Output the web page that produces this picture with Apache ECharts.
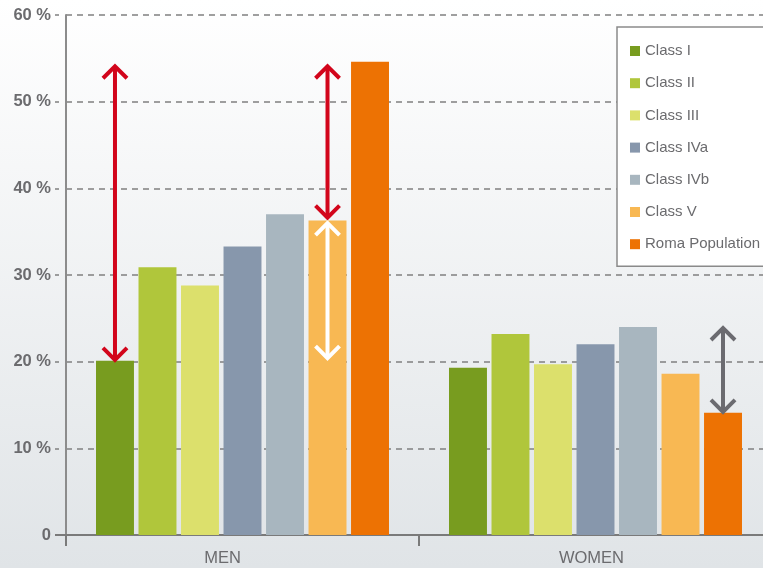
<!DOCTYPE html>
<html>
<head>
<meta charset="utf-8">
<script src="https://cdn.jsdelivr.net/npm/echarts@6/dist/echarts.min.js"></script>
<style>html,body{margin:0;padding:0;}#c{width:763px;height:568px;}</style>
</head>
<body>
<div id="c"></div>
<script>
// ---- data ----
const categories = ['MEN', 'WOMEN'];
const seriesNames = ['Class I', 'Class II', 'Class III', 'Class IVa', 'Class IVb', 'Class V', 'Roma Population'];
const classI = [20.1, 19.3];
const classII = [30.9, 23.2];
const classIII = [28.8, 19.7];
const classIVa = [33.3, 22.0];
const classIVb = [37.0, 24.0];
const classV = [36.3, 18.6];
const romaPopulation = [54.6, 14.1];
const yTicks = [0, 10, 20, 30, 40, 50, 60];
// annotation arrows: category index, bar (series) index, from value, to value
const arrowCategory = [0, 0, 0, 1];
const arrowBar = [5, 0, 5, 6];
const arrowFrom = [36.5, 20.1, 20.3, 14.1];
const arrowTo = [54.2, 54.2, 36.1, 24.0];

// ---- styles ----
const colors = ['#789c1f', '#b0c63b', '#dce06c', '#8797ac', '#a8b6bf', '#f8b853', '#ed7203'];
const arrowColors = ['#d2051b', '#d2051b', '#ffffff', '#6b6b70'];
const BAR_CAT_GAP = 0.17, BAR_GAP = 0.12;

const allValues = [classI, classII, classIII, classIVa, classIVb, classV, romaPopulation];
const barSeries = seriesNames.map((name, i) => ({
  name: name,
  type: 'bar',
  data: allValues[i],
  itemStyle: { color: colors[i] },
  barCategoryGap: (BAR_CAT_GAP * 100) + '%',
  barGap: (BAR_GAP * 100) + '%',
  emphasis: { disabled: true }
}));

const arrowData = arrowCategory.map((c, i) => [c, arrowBar[i], arrowFrom[i], arrowTo[i], i]);

const arrowSeries = {
  type: 'custom',
  name: 'arrows',
  coordinateSystem: 'cartesian2d',
  encode: { x: 0, y: 2 },
  data: arrowData,
  z: 10,
  clip: false,
  silent: true,
  renderItem: function (params, api) {
    const cat = api.value(0), bi = api.value(1), v1 = api.value(2), v2 = api.value(3), ci = api.value(4);
    const n = seriesNames.length;
    const band = api.size([1, 0])[0];
    const usable = band * (1 - BAR_CAT_GAP);
    const bw = usable / (n + (n - 1) * BAR_GAP);
    const center = api.coord([cat, 0])[0];
    const x = center - usable / 2 + bi * bw * (1 + BAR_GAP) + bw / 2;
    const yA = api.coord([cat, v1])[1];
    const yB = api.coord([cat, v2])[1];
    const yTop = Math.min(yA, yB), yBot = Math.max(yA, yB);
    const hw = 12, hh = 13;
    const col = arrowColors[ci];
    const st = { stroke: col, lineWidth: 4, fill: null, lineCap: 'butt', lineJoin: 'miter' };
    return {
      type: 'group',
      children: [
        { type: 'line', shape: { x1: x, y1: yTop + 2, x2: x, y2: yBot - 2 }, style: st },
        { type: 'polyline', shape: { points: [[x - hw, yTop + hh], [x, yTop + 1], [x + hw, yTop + hh]] }, style: st },
        { type: 'polyline', shape: { points: [[x - hw, yBot - hh], [x, yBot - 1], [x + hw, yBot - hh]] }, style: st }
      ]
    };
  }
};

const chart = echarts.init(document.getElementById('c'), null, { renderer: 'canvas' });
chart.setOption({
  animation: false,
  backgroundColor: {
    type: 'linear', x: 0, y: 0, x2: 0, y2: 1,
    colorStops: [{ offset: 0, color: '#ffffff' }, { offset: 1, color: '#e0e4e7' }]
  },
  grid: { left: 66, width: 706, top: 15, bottom: 33, containLabel: false, outerBoundsMode: 'none' },
  legend: {
    data: seriesNames,
    orient: 'vertical',
    left: 617,
    top: 27,
    icon: 'rect',
    itemWidth: 10,
    itemHeight: 10,
    itemGap: 14.2,
    padding: [15, 30, 13, 13],
    backgroundColor: '#ffffff',
    borderColor: '#8a8a8a',
    borderWidth: 1.5,
    borderRadius: 0,
    selectedMode: false,
    textStyle: { fontFamily: 'Liberation Sans', fontSize: 15, color: '#6b6b6e', lineHeight: 18 }
  },
  xAxis: {
    type: 'category',
    data: categories,
    axisLine: { lineStyle: { color: '#7a7a7a', width: 2 } },
    axisTick: { show: true, length: 11, lineStyle: { color: '#7a7a7a', width: 2 } },
    axisLabel: {
      margin: 15,
      fontFamily: 'Liberation Sans',
      fontSize: 16.5,
      color: '#6b6b6e',
      formatter: function (v) { return v === 'MEN' ? '{m|' + v + '}' : '{w|' + v + '}'; },
      rich: {
        m: { fontFamily: 'Liberation Sans', fontSize: 16.5, color: '#6b6b6e', padding: [0, 40, 0, 0] },
        w: { fontFamily: 'Liberation Sans', fontSize: 16.5, color: '#6b6b6e', padding: [0, 8, 0, 0] }
      }
    },
    splitLine: { show: false }
  },
  yAxis: [{
    type: 'value',
    min: yTicks[0],
    max: yTicks[yTicks.length - 1],
    interval: yTicks[1] - yTicks[0],
    axisLine: { show: true, lineStyle: { color: '#8c8c8c', width: 2 } },
    axisTick: { show: true, length: 11, lineStyle: { color: '#7f7f7f', width: 1.5, type: [4, 7], dashOffset: 4 } },
    axisLabel: {
      margin: 15,
      fontFamily: 'Liberation Sans',
      fontWeight: 'bold',
      fontSize: 16.5,
      color: '#6b6b6e',
      formatter: function (v) { return v === 0 ? '0' : v + ' %'; }
    },
    splitLine: { show: true, lineStyle: { color: '#808080', width: 1.5, type: [6, 5] } }
  }, {
    type: 'value',
    position: 'left',
    min: yTicks[0],
    max: yTicks[yTicks.length - 1],
    interval: yTicks[1] - yTicks[0],
    axisLine: { show: false },
    axisLabel: { show: false },
    splitLine: { show: false },
    axisTick: { show: true, length: 11, customValues: [yTicks[0]], lineStyle: { color: '#7a7a7a', width: 2, type: 'solid' } }
  }],
  series: barSeries.concat([arrowSeries])
});
</script>
</body>
</html>
